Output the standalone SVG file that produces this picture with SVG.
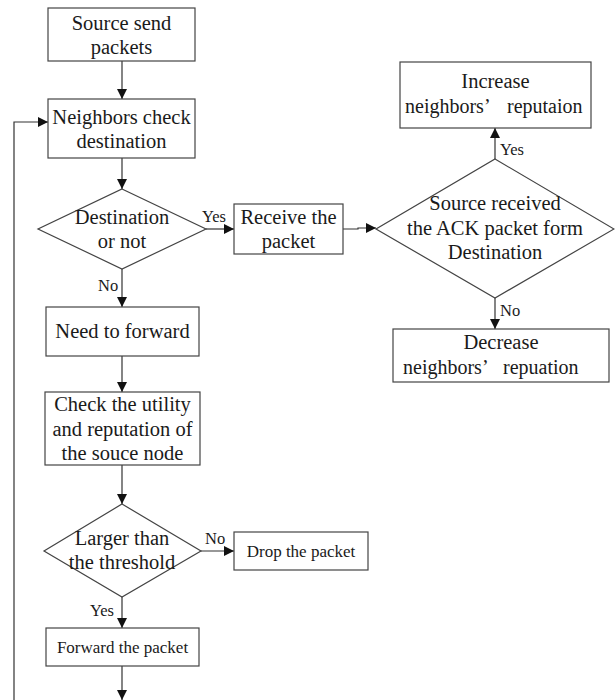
<svg xmlns="http://www.w3.org/2000/svg" width="615" height="700" viewBox="0 0 615 700">
<defs>
<marker id="ah" viewBox="0 0 10 10" refX="10" refY="5" markerWidth="10" markerHeight="10" markerUnits="userSpaceOnUse" orient="auto">
<path d="M0,0 L10,5 L0,10 z" fill="#111"/>
</marker>
<style>
.box{fill:#fff;stroke:#444;stroke-width:1.2}
.t{font-family:"Liberation Serif","Times New Roman",serif;font-size:20.5px;fill:#1a1a1a;text-anchor:middle}
.w{font-family:"Liberation Serif","Times New Roman",serif;font-size:20px;fill:#1a1a1a}
.s{font-family:"Liberation Serif","Times New Roman",serif;font-size:17px;fill:#1a1a1a;text-anchor:middle}
.l{font-family:"Liberation Serif","Times New Roman",serif;font-size:16.5px;fill:#1a1a1a}
.c{fill:none;stroke:#333;stroke-width:1.2}
</style>
</defs>
<rect width="615" height="700" fill="#fff"/>
<g id="connectors">
<path class="c" d="M122,61 V99" marker-end="url(#ah)"/>
<path class="c" d="M122,158 V189" marker-end="url(#ah)"/>
<path class="c" d="M206,229 H234" marker-end="url(#ah)"/>
<path class="c" d="M343,229 H358 V228 H376" marker-end="url(#ah)"/>
<path class="c" d="M495,159 V128" marker-end="url(#ah)"/>
<path class="c" d="M495,298 V329" marker-end="url(#ah)"/>
<path class="c" d="M122,269 V307" marker-end="url(#ah)"/>
<path class="c" d="M122,356 V392" marker-end="url(#ah)"/>
<path class="c" d="M122,465 V504" marker-end="url(#ah)"/>
<path class="c" d="M201,551 H234" marker-end="url(#ah)"/>
<path class="c" d="M122,597 V628" marker-end="url(#ah)"/>
<path class="c" d="M122,666 V700" marker-end="url(#ah)"/>
<path class="c" d="M14,700 V122 H48" marker-end="url(#ah)"/>
<text class="l" x="202" y="222">Yes</text>
<text class="l" x="98" y="291">No</text>
<text class="l" x="500" y="155">Yes</text>
<text class="l" x="500" y="316">No</text>
<text class="l" x="205" y="544">No</text>
<text class="l" x="90" y="616">Yes</text>
</g>
<g id="source-send">
<rect class="box" x="48" y="8" width="147" height="53"/>
<text class="t" x="121.5" y="30">Source send</text>
<text class="t" x="121.5" y="54">packets</text>
</g>
<g id="neighbors-check">
<rect class="box" x="48" y="99" width="147" height="59"/>
<text class="t" x="121.5" y="124">Neighbors check</text>
<text class="t" x="121.5" y="148">destination</text>
</g>
<g id="destination-or-not">
<polygon class="box" points="122,189 206,229 122,269 38,229"/>
<text class="t" x="122" y="224">Destination</text>
<text class="t" x="122" y="248">or not</text>
</g>
<g id="receive">
<rect class="box" x="234" y="204" width="109" height="50"/>
<text class="t" x="288.5" y="224">Receive the</text>
<text class="t" x="288.5" y="248">packet</text>
</g>
<g id="ack">
<polygon class="box" points="495,159 614,229 495,298 376,229"/>
<text class="t" x="495" y="210">Source received</text>
<text class="t" x="495" y="235">the ACK packet form</text>
<text class="t" x="495" y="259">Destination</text>
</g>
<g id="increase">
<rect class="box" x="400" y="62" width="191" height="66"/>
<text class="t" x="495.5" y="88">Increase</text>
<text class="w" x="405" y="113">neighbors’<tspan x="507">reputaion</tspan></text>
</g>
<g id="decrease">
<rect class="box" x="393" y="329" width="216" height="53"/>
<text class="t" x="501" y="349">Decrease</text>
<text class="w" x="403" y="374">neighbors’<tspan x="503">repuation</tspan></text>
</g>
<g id="need-forward">
<rect class="box" x="46" y="307" width="153" height="49"/>
<text class="t" x="122.5" y="338">Need to forward</text>
</g>
<g id="check-utility">
<rect class="box" x="45" y="392" width="155" height="73"/>
<text class="t" x="122.5" y="411">Check the utility</text>
<text class="t" x="122.5" y="436">and reputation of</text>
<text class="t" x="122.5" y="460">the souce node</text>
</g>
<g id="threshold">
<polygon class="box" points="122,504 201,551 122,597 44,551"/>
<text class="t" x="122" y="545">Larger than</text>
<text class="t" x="122" y="569">the threshold</text>
</g>
<g id="drop">
<rect class="box" x="234" y="532" width="134" height="38"/>
<text class="s" x="301" y="557">Drop the packet</text>
</g>
<g id="forward">
<rect class="box" x="46" y="628" width="153" height="38"/>
<text class="s" x="122.5" y="653">Forward the packet</text>
</g>
</svg>
